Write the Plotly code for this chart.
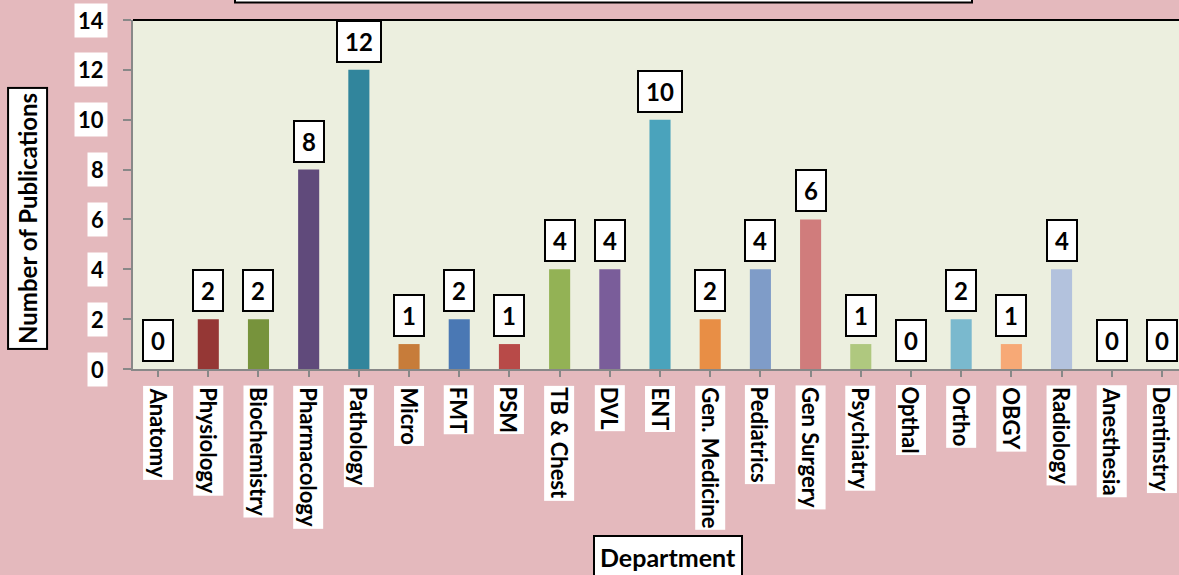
import plotly.graph_objects as go

departments = ["Anatomy", "Physiology", "Biochemistry", "Pharmacology", "Pathology",
               "Micro", "FMT", "PSM", "TB & Chest", "DVL", "ENT", "Gen. Medicine",
               "Pediatrics", "Gen Surgery", "Psychiatry", "Opthal", "Ortho", "OBGY",
               "Radiology", "Anesthesia", "Dentinstry"]
publications = [0, 2, 2, 8, 12, 1, 2, 1, 4, 4, 10, 2, 4, 6, 1, 0, 2, 1, 4, 0, 0]
bar_colors = ["#9BBB59", "#953735", "#77933C", "#604A7B", "#31859C",
              "#C77C3A", "#4A78B4", "#B84A48", "#93B255", "#7A5D9A", "#4AA3BC",
              "#E88E45", "#7F9CC8", "#D07C7C", "#AFC87F", "#9BBB59", "#7AB9CE",
              "#F7A976", "#B3C2DD", "#9BBB59", "#9BBB59"]
y_ticks = [0, 2, 4, 6, 8, 10, 12, 14]

FONT = "Lato"
x_idx = list(range(len(departments)))

fig = go.Figure()
fig.add_trace(go.Bar(x=x_idx, y=publications, marker=dict(color=bar_colors, line=dict(width=0)),
                     width=0.42, hoverinfo="x+y"))

ann = []
# value labels
for i, v in enumerate(publications):
    ann.append(dict(x=i, y=v, xref="x", yref="y", text=str(v), showarrow=False,
                    xanchor="center", yanchor="bottom", yshift=7,
                    font=dict(family=FONT, size=24, color="black", weight=700),
                    bgcolor="white", bordercolor="black", borderwidth=2, borderpad=3,
                    width=22 if v < 10 else 36, height=33))
# x category labels
for i, d in enumerate(departments):
    ann.append(dict(x=i, y=0, xref="x", yref="paper", text=d, showarrow=False,
                    textangle=90, xanchor="center", yanchor="top", yshift=-16,
                    font=dict(family=FONT, size=22, color="black", weight=700),
                    bgcolor="white", borderpad=1))
# y tick labels
for t in y_ticks:
    ann.append(dict(x=0, y=t, xref="paper", yref="y", text=str(t), showarrow=False,
                    xanchor="right", yanchor="middle", xshift=-25,
                    font=dict(family=FONT, size=22, color="black", weight=700),
                    bgcolor="white", borderpad=3))
# axis titles
ann.append(dict(x=0, y=0.43, xref="paper", yref="paper", text="Number of Publications",
                showarrow=False, textangle=-90, xanchor="center", yanchor="middle", xshift=-105,
                font=dict(family=FONT, size=24, color="black", weight=700),
                bgcolor="white", bordercolor="black", borderwidth=2, borderpad=4))
ann.append(dict(x=0.5115, y=0, xref="paper", yref="paper", text="Department",
                showarrow=False, xanchor="center", yanchor="top", yshift=-166,
                font=dict(family=FONT, size=25, color="black", weight=700),
                bgcolor="white", bordercolor="black", borderwidth=2, borderpad=5))

shapes = [
    # top border of plot area
    dict(type="line", xref="paper", yref="paper", x0=0, x1=1.01, y0=1, y1=1,
         line=dict(color="black", width=2)),
    # cut-off title box at the top
    dict(type="rect", xref="paper", yref="paper", x0=(235 - 133) / 1046, x1=(972 - 133) / 1046,
         y0=1 + 17.5 / 349, y1=1.2, fillcolor="white", line=dict(color="black", width=2)),
]

fig.update_layout(
    width=1179, height=575,
    margin=dict(l=133, r=0, t=20, b=206),
    paper_bgcolor="#E4B9BD",
    plot_bgcolor="#ECEFDF",
    showlegend=False,
    annotations=ann,
    shapes=shapes,
    xaxis=dict(range=[-0.5, 20.34], tickmode="array", tickvals=x_idx, showticklabels=False,
               ticks="outside", ticklen=6, tickcolor="#888888", tickwidth=2,
               tickson="boundaries", showline=True, linecolor="#888888", linewidth=2,
               showgrid=False, zeroline=False, fixedrange=True),
    yaxis=dict(range=[0, 14], tickvals=y_ticks, showticklabels=False,
               ticks="outside", ticklen=8, tickcolor="#888888", tickwidth=2,
               showline=True, linecolor="#888888", linewidth=2,
               showgrid=False, zeroline=False, fixedrange=True),
)

fig.write_html("out.html",
               config={"displayModeBar": False},
               post_script="document.body.style.margin='0';document.body.style.padding='0';"
                           "document.body.style.overflow='hidden';"
                           "document.documentElement.style.overflow='hidden';")
